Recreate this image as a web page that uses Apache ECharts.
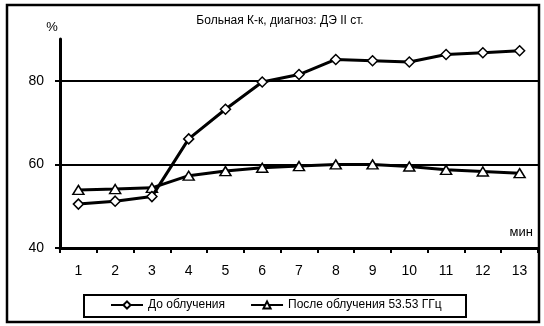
<!DOCTYPE html>
<html>
<head>
<meta charset="utf-8">
<script src="https://cdn.jsdelivr.net/npm/echarts@6/dist/echarts.min.js"></script>
<style>
html,body{margin:0;padding:0;background:#fff;}
#c{width:544px;height:326px;}
</style>
</head>
<body>
<div id="c"></div>
<script>
var categories = ['1','2','3','4','5','6','7','8','9','10','11','12','13'];
var beforeValues = [50.5, 51.2, 52.3, 66.1, 73.2, 79.7, 81.5, 85.1, 84.8, 84.5, 86.3, 86.7, 87.2];
var afterValues = [53.9, 54.1, 54.4, 57.3, 58.4, 59.2, 59.6, 60.0, 60.0, 59.5, 58.7, 58.3, 57.9];
var yTicks = [40, 60, 80];
var seriesNames = ['До облучения', 'После облучения 53.53 ГГц'];
var titleText = 'Больная К-к, диагноз: ДЭ II ст.';
var yUnit = '%';
var xUnit = 'мин';

var FONT = '"Liberation Sans", Arial, sans-serif';
var chart = echarts.init(document.getElementById('c'), null, {renderer: 'canvas'});
chart.setOption({
  animation: false,
  backgroundColor: '#fff',
  grid: {left: 60, right: 6, top: 39, bottom: 78},
  legend: {
    left: 110, top: 299,
    itemWidth: 32, itemHeight: 9, itemGap: 25,
    padding: 0,
    textStyle: {fontFamily: FONT, fontSize: 12, color: '#000'},
    data: seriesNames
  },
  xAxis: {
    type: 'category',
    data: categories,
    boundaryGap: true,
    axisLine: {lineStyle: {color: '#000', width: 3}},
    axisTick: {show: true, interval: 0, length: 5, lineStyle: {color: '#000', width: 2}},
    axisLabel: {interval: 0, margin: 16, fontFamily: FONT, fontSize: 14, color: '#000'},
    splitLine: {show: false}
  },
  yAxis: {
    type: 'value',
    min: 40, max: 90, interval: 20,
    axisLine: {show: true, lineStyle: {color: '#000', width: 3}},
    axisTick: {show: true, length: 5, customValues: yTicks, lineStyle: {color: '#000', width: 2}},
    axisLabel: {margin: 16, fontFamily: FONT, fontSize: 14, color: '#000', customValues: yTicks},
    splitLine: {show: false}
  },
  series: [
    {
      name: seriesNames[0],
      type: 'line',
      data: beforeValues,
      symbol: 'diamond',
      symbolSize: [10, 10],
      showAllSymbol: true,
      lineStyle: {color: '#000', width: 3},
      itemStyle: {color: '#fff', borderColor: '#000', borderWidth: 1.5},
      z: 5,
      markLine: {
        silent: true,
        symbol: 'none',
        label: {show: false},
        lineStyle: {color: '#000', width: 2, type: 'solid'},
        data: [{yAxis: yTicks[1]}, {yAxis: yTicks[2]}],
        z: 1
      }
    },
    {
      name: seriesNames[1],
      type: 'line',
      data: afterValues,
      symbol: 'triangle',
      symbolSize: [11, 9],
      showAllSymbol: true,
      lineStyle: {color: '#000', width: 3},
      itemStyle: {color: '#fff', borderColor: '#000', borderWidth: 1.5},
      z: 4
    }
  ],
  graphic: [
    {type: 'rect', shape: {x: 7, y: 5, width: 532, height: 317}, style: {fill: 'none', stroke: '#000', lineWidth: 2.5}, z: 100, silent: true},
    {type: 'rect', shape: {x: 84, y: 295, width: 382, height: 22}, style: {fill: 'none', stroke: '#000', lineWidth: 2}, z: 100, silent: true},
    {type: 'text', style: {x: 280, y: 21, text: titleText, align: 'center', verticalAlign: 'middle', font: '12px ' + FONT, fill: '#000'}, z: 100},
    {type: 'text', style: {x: 52, y: 27, text: yUnit, align: 'center', verticalAlign: 'middle', font: '13px ' + FONT, fill: '#000'}, z: 100},
    {type: 'text', style: {x: 533, y: 232, text: xUnit, align: 'right', verticalAlign: 'middle', font: '13px ' + FONT, fill: '#000'}, z: 100}
  ]
});
</script>
</body>
</html>
